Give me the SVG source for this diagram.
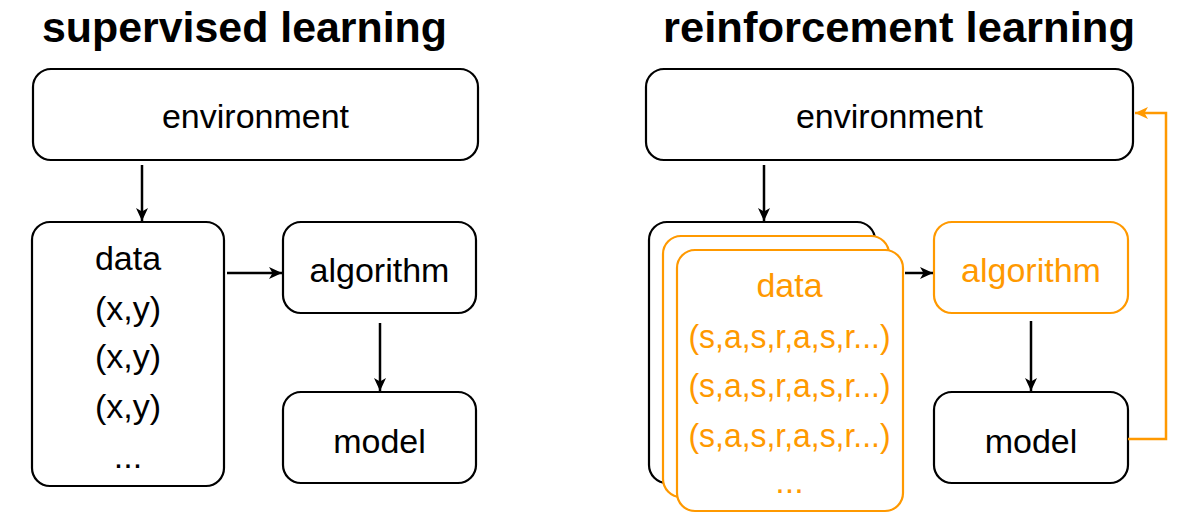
<svg xmlns="http://www.w3.org/2000/svg" width="1185" height="525" viewBox="0 0 1185 525">
<style>
.box{fill:#fff;stroke:#000;stroke-width:2.2}
.obox{fill:#fff;stroke:#FF9900;stroke-width:2.2}
.t{font-family:"Liberation Sans",Arial,sans-serif;font-size:34px;fill:#000;text-anchor:middle}
.ot{font-family:"Liberation Sans",Arial,sans-serif;font-size:34px;fill:#FF9900;text-anchor:middle}
.title{font-family:"Liberation Sans",Arial,sans-serif;font-size:43px;font-weight:bold;fill:#000}
.c{fill:none;stroke:#000;stroke-width:2.5}
.oc{fill:none;stroke:#FF9900;stroke-width:2.5}
</style>
<defs>
<marker id="ah" markerUnits="userSpaceOnUse" markerWidth="14" markerHeight="12" refX="13" refY="6" orient="auto">
<path d="M0,0 L13,6 L0,12 L3.5,6 z" fill="#000"/>
</marker>
<marker id="oah" markerUnits="userSpaceOnUse" markerWidth="14" markerHeight="12" refX="13" refY="6" orient="auto">
<path d="M0,0 L13,6 L0,12 L3.5,6 z" fill="#FF9900"/>
</marker>
</defs>
<rect width="1185" height="525" fill="#fff"/>

<g id="titles">
<text class="title" x="42" y="42" textLength="405" lengthAdjust="spacingAndGlyphs">supervised learning</text>
<text class="title" x="663" y="42" textLength="472" lengthAdjust="spacingAndGlyphs">reinforcement learning</text>
</g>

<!-- supervised learning -->
<g id="sl-environment">
<rect class="box" x="33" y="69" width="445" height="91" rx="18"/>
<text class="t" x="255.5" y="128">environment</text>
</g>
<g id="sl-data">
<rect class="box" x="32" y="222" width="192" height="264" rx="18"/>
<text class="t" x="128" y="270">data</text>
<text class="t" x="128" y="320">(x,y)</text>
<text class="t" x="128" y="368">(x,y)</text>
<text class="t" x="128" y="418">(x,y)</text>
<text class="t" x="128" y="468">...</text>
</g>
<g id="sl-algorithm">
<rect class="box" x="283" y="222" width="193" height="91" rx="18"/>
<text class="t" x="379.5" y="282">algorithm</text>
</g>
<g id="sl-model">
<rect class="box" x="283" y="392" width="193" height="91" rx="18"/>
<text class="t" x="379.5" y="453">model</text>
</g>

<!-- reinforcement learning -->
<g id="rl-environment">
<rect class="box" x="646" y="69" width="487" height="91" rx="18"/>
<text class="t" x="889.5" y="128">environment</text>
</g>
<g id="rl-data">
<rect class="box" x="649" y="222" width="226" height="261" rx="18"/>
<rect class="obox" x="663" y="236" width="226" height="261" rx="18"/>
<rect class="obox" x="677" y="250" width="226" height="261" rx="18"/>
<text class="ot" x="789.5" y="297">data</text>
<text class="ot" x="789.5" y="348" textLength="202" lengthAdjust="spacingAndGlyphs">(s,a,s,r,a,s,r...)</text>
<text class="ot" x="789.5" y="397" textLength="202" lengthAdjust="spacingAndGlyphs">(s,a,s,r,a,s,r...)</text>
<text class="ot" x="789.5" y="447" textLength="202" lengthAdjust="spacingAndGlyphs">(s,a,s,r,a,s,r...)</text>
<text class="ot" x="789.5" y="493">...</text>
</g>
<g id="rl-algorithm">
<rect class="obox" x="934" y="222" width="194" height="91" rx="18"/>
<text class="ot" x="1031" y="282">algorithm</text>
</g>
<g id="rl-model">
<rect class="box" x="934" y="392" width="194" height="91" rx="18"/>
<text class="t" x="1031" y="453">model</text>
</g>

<g id="connectors">
<line class="c" x1="142" y1="165" x2="142" y2="221" marker-end="url(#ah)"/>
<line class="c" x1="227" y1="273" x2="282" y2="273" marker-end="url(#ah)"/>
<line class="c" x1="380" y1="323" x2="380" y2="391" marker-end="url(#ah)"/>
<line class="c" x1="764" y1="165" x2="764" y2="221" marker-end="url(#ah)"/>
<line class="c" x1="905" y1="273" x2="933" y2="273" marker-end="url(#ah)"/>
<line class="c" x1="1031" y1="321" x2="1031" y2="391" marker-end="url(#ah)"/>
<polyline class="oc" points="1128,439 1166,439 1166,113 1135,113" marker-end="url(#oah)"/>
</g>
</svg>
